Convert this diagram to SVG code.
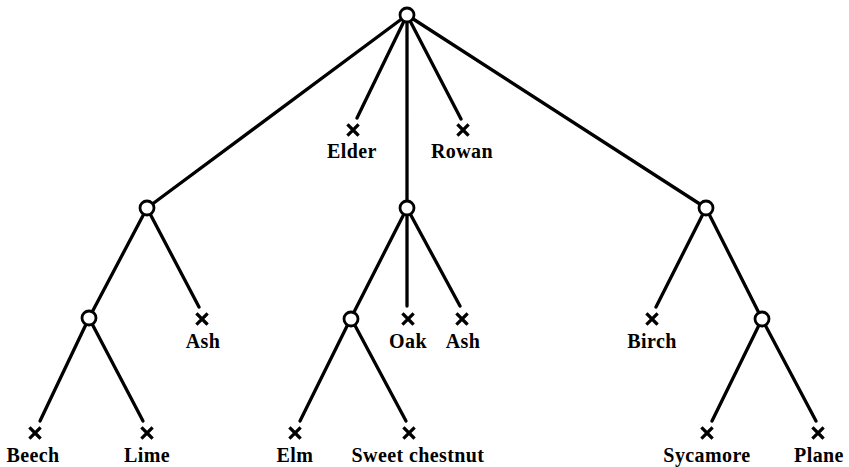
<svg xmlns="http://www.w3.org/2000/svg" width="849" height="467" viewBox="0 0 849 467">
<style>
.e{stroke:#000;stroke-width:3.3;stroke-linecap:round;fill:none}
.n{fill:#fff;stroke:#000;stroke-width:2.8}
.x{stroke:#000;stroke-width:3.2;stroke-linecap:square}
text{font-family:"Liberation Serif","Times New Roman",serif;font-weight:bold;font-size:20px;letter-spacing:0.4px;text-anchor:middle;fill:#000}
</style>
<defs>
<g id="cross"><path class="x" d="M-4.5,-4.5L4.5,4.5M4.5,-4.5L-4.5,4.5"/></g>
</defs>
<rect width="849" height="467" fill="#fff"/>
<g id="edges">
<path class="e" d="M407,15L147,208M407,15L357,118M407,15L407,208M407,15L461,119M407,15L706,208"/>
<path class="e" d="M147,208L89,318M147,208L199,307"/>
<path class="e" d="M89,318L40,421M89,318L143,421"/>
<path class="e" d="M407,208L351,318M407,208L407,306M407,208L460,306"/>
<path class="e" d="M351,318L300,421M351,318L406,421"/>
<path class="e" d="M706,208L656,307M706,208L762,319"/>
<path class="e" d="M762,319L712,421M762,319L816,421"/>
</g>
<g id="root"><circle class="n" cx="407" cy="15" r="7"/></g>
<g id="n-left"><circle class="n" cx="147" cy="208" r="7"/></g>
<g id="n-mid"><circle class="n" cx="407" cy="208" r="7"/></g>
<g id="n-right"><circle class="n" cx="706" cy="208" r="7"/></g>
<g id="n-leftleft"><circle class="n" cx="89" cy="318" r="7"/></g>
<g id="n-midleft"><circle class="n" cx="351" cy="319" r="7"/></g>
<g id="n-rightright"><circle class="n" cx="762" cy="319" r="7"/></g>
<g id="elder"><use href="#cross" x="353" y="130"/><text x="352" y="158">Elder</text></g>
<g id="rowan"><use href="#cross" x="463" y="130"/><text x="462" y="158">Rowan</text></g>
<g id="ash1"><use href="#cross" x="202" y="319"/><text x="203" y="348">Ash</text></g>
<g id="beech"><use href="#cross" x="35" y="433"/><text x="33" y="462">Beech</text></g>
<g id="lime"><use href="#cross" x="147" y="433"/><text x="147" y="462">Lime</text></g>
<g id="oak"><use href="#cross" x="408" y="319"/><text x="408" y="348">Oak</text></g>
<g id="ash2"><use href="#cross" x="462" y="319"/><text x="463" y="348">Ash</text></g>
<g id="elm"><use href="#cross" x="295" y="433"/><text x="295" y="462">Elm</text></g>
<g id="sweetchestnut"><use href="#cross" x="409" y="433"/><text x="418" y="462">Sweet chestnut</text></g>
<g id="birch"><use href="#cross" x="652" y="319"/><text x="652" y="348">Birch</text></g>
<g id="sycamore"><use href="#cross" x="707" y="433"/><text x="707" y="462">Sycamore</text></g>
<g id="plane"><use href="#cross" x="818" y="433"/><text x="819" y="462">Plane</text></g>
</svg>
